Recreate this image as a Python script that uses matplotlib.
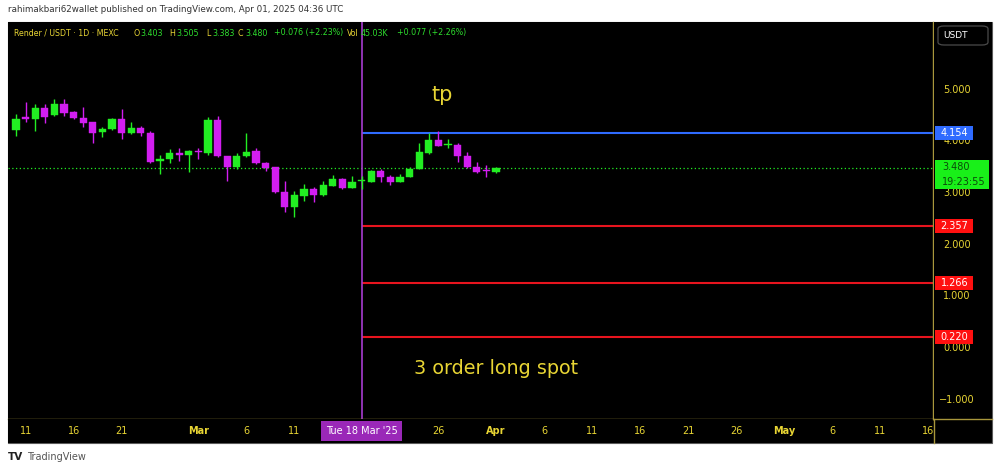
import matplotlib
matplotlib.use('Agg')
import matplotlib.pyplot as plt
import matplotlib.dates as mdates
from matplotlib.patches import Rectangle, FancyBboxPatch
from matplotlib.lines import Line2D
import pandas as pd

# ---------------- data ----------------
dates = pd.date_range('2025-02-10', '2025-04-01', freq='D')
opens = [4.217, 4.462, 4.429, 4.636, 4.507, 4.714, 4.565, 4.455, 4.377, 4.172,
         4.230, 4.435, 4.153, 4.255, 4.164, 3.617, 3.650, 3.778, 3.727, 3.805,
         3.778, 4.410, 3.714, 3.495, 3.714, 3.816, 3.584, 3.495, 3.023, 2.733,
         2.946, 3.070, 2.959, 3.139, 3.263, 3.101, 3.224, 3.217, 3.429, 3.313,
         3.205, 3.302, 3.456, 3.766, 4.023, 3.930, 3.921, 3.714, 3.507, 3.437,
         3.403]
highs = [4.520, 4.758, 4.714, 4.714, 4.816, 4.822, 4.584, 4.656, 4.377, 4.269,
         4.455, 4.623, 4.377, 4.300, 4.197, 3.727, 3.855, 3.874, 3.830, 3.874,
         4.474, 4.487, 3.714, 3.778, 4.164, 3.863, 3.603, 3.507, 3.230, 3.043,
         3.172, 3.120, 3.236, 3.346, 3.282, 3.327, 3.327, 3.443, 3.462, 3.340,
         3.366, 3.501, 3.959, 4.153, 4.203, 4.037, 3.959, 3.785, 3.592, 3.540,
         3.505]
lows = [4.101, 4.377, 4.203, 4.346, 4.487, 4.493, 4.424, 4.269, 3.959, 4.075,
        4.217, 4.048, 4.139, 4.101, 3.584, 3.360, 3.584, 3.623, 3.410, 3.662,
        3.727, 3.700, 3.236, 3.462, 3.689, 3.559, 3.429, 3.004, 2.636, 2.528,
        2.849, 2.830, 2.940, 3.139, 3.070, 3.101, 3.070, 3.205, 3.217, 3.153,
        3.205, 3.302, 3.456, 3.752, 3.907, 3.863, 3.592, 3.476, 3.391, 3.302,
        3.383]
closes = [4.429, 4.435, 4.636, 4.474, 4.714, 4.551, 4.443, 4.352, 4.153, 4.236,
          4.435, 4.153, 4.255, 4.153, 3.603, 3.662, 3.766, 3.733, 3.810, 3.791,
          4.410, 3.714, 3.507, 3.714, 3.797, 3.573, 3.476, 3.012, 2.721, 2.959,
          3.070, 2.959, 3.153, 3.263, 3.101, 3.211, 3.236, 3.429, 3.302, 3.205,
          3.308, 3.462, 3.785, 4.023, 3.907, 3.946, 3.714, 3.495, 3.398, 3.424,
          3.480]

tick_dates = ['2025-02-11', '2025-02-16', '2025-02-21', '2025-03-01', '2025-03-06',
              '2025-03-11', '2025-03-26', '2025-04-01', '2025-04-06', '2025-04-11',
              '2025-04-16', '2025-04-21', '2025-04-26', '2025-05-01', '2025-05-06',
              '2025-05-11', '2025-05-16']
tick_labels = ['11', '16', '21', 'Mar', '6', '11', '26', 'Apr', '6', '11',
               '16', '21', '26', 'May', '6', '11', '16']
month_labels = {'Mar', 'Apr', 'May'}

price_ticks = [5.0, 4.0, 3.0, 2.0, 1.0, 0.0, -1.0]
tp_level = 4.154
order_levels = [2.357, 1.266, 0.220]
last_price = 3.480
marker_date = '2025-03-18'
marker_label = "Tue 18 Mar '25"

# ---------------- style ----------------
W, H = 1000, 472
GREEN = '#22ee22'
MAGENTA = '#d21ef0'
YELLOW = '#e8d534'
VALGREEN = '#2ee02e'
PURPLE_LINE = '#a83cd0'
PURPLE_BOX = '#9a28b8'
AXIS_COL = '#a8963c'
RED = '#e8141e'
BLUE = '#2f6bff'
FONT = 'DejaVu Sans'

def fx(px):
    return px / W

def fy(py):
    return 1 - py / H

fig = plt.figure(figsize=(10, 4.72), dpi=100, facecolor='white')

# black chart background
fig.patches.append(Rectangle((fx(8), fy(443)), fx(992) - fx(8), fy(22) - fy(443),
                             transform=fig.transFigure, facecolor='black',
                             edgecolor='#5a5a5a', lw=0.8, zorder=-5))

x = mdates.date2num(dates)
x0 = mdates.date2num(pd.Timestamp('2025-02-10'))
xmin = x0 - 0.833
xmax = x0 + 95.52
ymin, ymax = -1.373, 6.306

ax = fig.add_axes([fx(8), fy(419), fx(933) - fx(8), fy(22) - fy(419)])
ax.set_facecolor('black')
ax.set_xlim(xmin, xmax)
ax.set_ylim(ymin, ymax)
ax.set_xticks([])
ax.set_yticks([])
for s in ['top', 'left']:
    ax.spines[s].set_visible(False)
for s in ['bottom', 'right']:
    ax.spines[s].set_color(AXIS_COL)
    ax.spines[s].set_linewidth(1.0)

xm = mdates.date2num(pd.Timestamp(marker_date))

# levels
ax.axhline(last_price, color=GREEN, lw=0.9, ls=(0, (1, 2)), zorder=1)
ax.hlines(tp_level, xm, xmax, color=BLUE, lw=1.5, zorder=2)
for lv in order_levels:
    ax.hlines(lv, xm, xmax, color=RED, lw=1.5, zorder=2)
ax.axvline(xm, color=PURPLE_LINE, lw=1.2, zorder=2)

# candles
body_w = 0.74
for xi, o, h, l, c in zip(x, opens, highs, lows, closes):
    col = GREEN if c >= o else MAGENTA
    ax.vlines(xi, l, h, color=col, lw=1.0, zorder=3)
    bottom = min(o, c)
    height = max(abs(c - o), 0.022)
    ax.bar(xi, height, width=body_w, bottom=bottom, color=col, edgecolor=col,
           lw=0.3, zorder=4)

ax.text(mdates.date2num(pd.Timestamp('2025-03-26')) + 0.4, 4.9, 'tp', color=YELLOW,
        fontsize=15, ha='center', va='center', family=FONT)
ax.text(mdates.date2num(pd.Timestamp('2025-03-23')) + 0.45, -0.39, '3 order long spot',
        color=YELLOW, fontsize=13.8, ha='left', va='center', family=FONT)

# ---------- price axis ----------
axr = fig.add_axes([fx(934), fy(419), fx(992) - fx(934), fy(22) - fy(419)])
axr.set_facecolor('black')
axr.set_xlim(0, 1)
axr.set_ylim(ymin, ymax)
axr.set_xticks([])
axr.set_yticks([])
for s in axr.spines.values():
    s.set_visible(False)
for v in price_ticks:
    axr.text(0.4, v, f'{v:.3f}'.replace('-', '\u2212'), color=YELLOW, fontsize=7,
             ha='center', va='center', family=FONT, zorder=1)

unit = 1 / 51.7  # price per pixel
def level_box(v, col, txt):
    axr.add_patch(Rectangle((0.017, v - 7 * unit), 0.66, 14 * unit, facecolor=col,
                            edgecolor='none', zorder=5))
    axr.text(0.35, v, txt, color='white', fontsize=7, ha='center', va='center',
             family=FONT, zorder=6)

level_box(tp_level, BLUE, f'{tp_level:.3f}')
for lv in order_levels:
    level_box(lv, '#ff1010', f'{lv:.3f}')
axr.add_patch(Rectangle((0.017, last_price - 21 * unit), 0.93, 29 * unit,
                        facecolor='#19f019', edgecolor='none', zorder=5))
axr.text(0.14, last_price + 1 * unit, f'{last_price:.3f}', color='#0a4a0a',
         fontsize=7, ha='left', va='center', family=FONT, zorder=6)
axr.text(0.14, last_price - 14 * unit, '19:23:55', color='#0a4a0a',
         fontsize=7, ha='left', va='center', family=FONT, zorder=6)

# USDT box
fig.patches.append(FancyBboxPatch((fx(938), fy(45)), fx(988) - fx(938), fy(26) - fy(45),
                                  boxstyle='round,pad=0,rounding_size=0.006',
                                  transform=fig.transFigure, facecolor='black',
                                  edgecolor='#4a4a4a', lw=0.9, zorder=5))
fig.text(fx(955), fy(36), 'USDT', color='white', fontsize=6.5, ha='center',
         va='center', family=FONT, zorder=6)

# ---------- time axis ----------
axt = fig.add_axes([fx(8), fy(443), fx(933) - fx(8), fy(419) - fy(443)])
axt.set_facecolor('black')
axt.set_xlim(xmin, xmax)
axt.set_ylim(0, 1)
axt.set_xticks([])
axt.set_yticks([])
for s in axt.spines.values():
    s.set_visible(False)
for d, lab in zip(tick_dates, tick_labels):
    axt.text(mdates.date2num(pd.Timestamp(d)), 0.5, lab, color=YELLOW, fontsize=7,
             ha='center', va='center', family=FONT,
             fontweight='bold' if lab in month_labels else 'normal', clip_on=True)
axt.text(xm, 0.5, marker_label, color='white', fontsize=7, ha='center', va='center',
         family=FONT, zorder=6,
         bbox=dict(boxstyle='square,pad=0.5', facecolor=PURPLE_BOX, edgecolor='none'))

fig.lines.append(Line2D([fx(933), fx(992)], [fy(419), fy(419)], transform=fig.transFigure,
                        color=AXIS_COL, lw=1.0, zorder=8))
fig.lines.append(Line2D([fx(933.5), fx(933.5)], [fy(419), fy(443)], transform=fig.transFigure,
                        color=AXIS_COL, lw=1.0, zorder=8))

# ---------- header ----------
fig.text(fx(8), fy(10), 'rahimakbari62wallet published on TradingView.com, Apr 01, 2025 04:36 UTC',
         color='#333333', fontsize=6.3, ha='left', va='center', family=FONT)

hy = fy(33)
header_parts = [
    (14, 'Render / USDT \u00b7 1D \u00b7 MEXC', YELLOW),
    (133, 'O', YELLOW), (140, '3.403', VALGREEN),
    (169, 'H', YELLOW), (176, '3.505', VALGREEN),
    (206, 'L', YELLOW), (212, '3.383', VALGREEN),
    (238, 'C', YELLOW), (245, '3.480', VALGREEN),
    (274, '+0.076 (+2.23%)', VALGREEN),
    (347, 'Vol', YELLOW), (361, '45.03K', VALGREEN),
    (397, '+0.077 (+2.26%)', VALGREEN),
]
for px, t, col in header_parts:
    fig.text(fx(px), hy, t, color=col, fontsize=5.7, ha='left', va='center', family=FONT,
             zorder=10)

# ---------- footer ----------
fig.text(fx(8), fy(457), 'TV', color='#222222', fontsize=7.5, fontweight='bold',
         ha='left', va='center', family=FONT)
fig.text(fx(27), fy(457), 'TradingView', color='#555555', fontsize=7, ha='left',
         va='center', family=FONT)

fig.savefig('out.png', dpi=100, facecolor='white')
